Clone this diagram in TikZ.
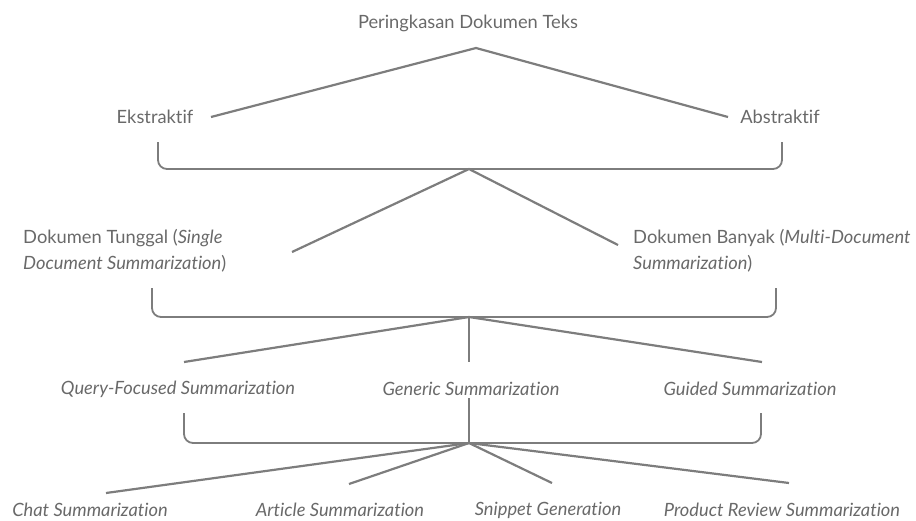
\documentclass[tikz,border=0pt]{standalone}
\usepackage{fontspec}
\setmainfont{Lato}[Ligatures={NoCommon}]
\definecolor{txtgray}{RGB}{105,105,105}
\definecolor{lingray}{RGB}{125,125,125}
\usepackage{tikz}

\begin{document}
\begin{tikzpicture}[x=1pt, y=-1pt,
    lbl/.style={inner sep=0pt, text=txtgray, font=\fontsize{18.3}{26}\selectfont},
    ital/.style={lbl, font=\fontsize{18.3}{26}\selectfont\itshape},
    link/.style={draw=lingray, line width=2.2pt},
    brace/.style={draw=lingray, line width=1.8pt, rounded corners=9pt}
  ]
    \useasboundingbox (0,0) rectangle (916,520);

    % level 0 and 1
    \node[lbl] (root)  at (468,23)  {Peringkasan Dokumen Teks};
    \node[lbl] (ekstr) at (155,117) {Ekstraktif};
    \node[lbl] (abstr) at (780,117) {Abstraktif};

    \coordinate (r0) at (476,48);
    \coordinate (ekend) at (211,117);
    \coordinate (abend) at (728,117);
    \draw[link] (ekend) -- (r0) -- (abend);

    \draw[brace] (158,142) -- (158,169) -- (782,169) -- (782,142);
    \coordinate (b1) at (469,169);

    % level 2
    \node[lbl, anchor=west, align=left] (tunggal) at (23,251)
      {Dokumen Tunggal (\textit{Single}\\\textit{Document Summarization})};
    \node[lbl, anchor=west, align=left] (banyak) at (633,251)
      {Dokumen Banyak (\textit{Multi-Document}\\\textit{Summarization})};

    \coordinate (tgend) at (292,252);
    \coordinate (bnend) at (618,245);
    \draw[link] (tgend) -- (b1) -- (bnend);

    \draw[brace] (152,288) -- (152,317) -- (776,317) -- (776,288);
    \coordinate (b2) at (469,317);

    % level 3
    \node[ital] (query)   at (178,389) {Query-Focused Summarization};
    \node[ital] (generic) at (471,389) {Generic Summarization};
    \node[ital] (guided)  at (750,389) {Guided Summarization};

    \coordinate (qend) at (184,362);
    \coordinate (gnend) at (469,362);
    \coordinate (gdend) at (762,362);
    \foreach \e in {qend, gnend, gdend}
      \draw[link] (b2) -- (\e);

    \draw[brace] (184,413) -- (184,443) -- (761,443) -- (761,413);
    \coordinate (b3) at (469,443);
    \coordinate (gntop) at (469,398);
    \draw[link] (b3) -- (gntop);

    % level 4
    \node[ital] (chat)    at (90,510)  {Chat Summarization};
    \node[ital] (article) at (340,510) {Article Summarization};
    \node[ital] (snippet) at (548,510) {Snippet Generation};
    \node[ital] (product) at (782,510) {Product Review Summarization};

    \coordinate (chend) at (106,493);
    \coordinate (arend) at (349,484);
    \coordinate (snend) at (552,483);
    \coordinate (prend) at (789,483);
    \foreach \e in {chend, arend, snend, prend}
      \draw[link] (b3) -- (\e);
  \end{tikzpicture}
\end{document}
